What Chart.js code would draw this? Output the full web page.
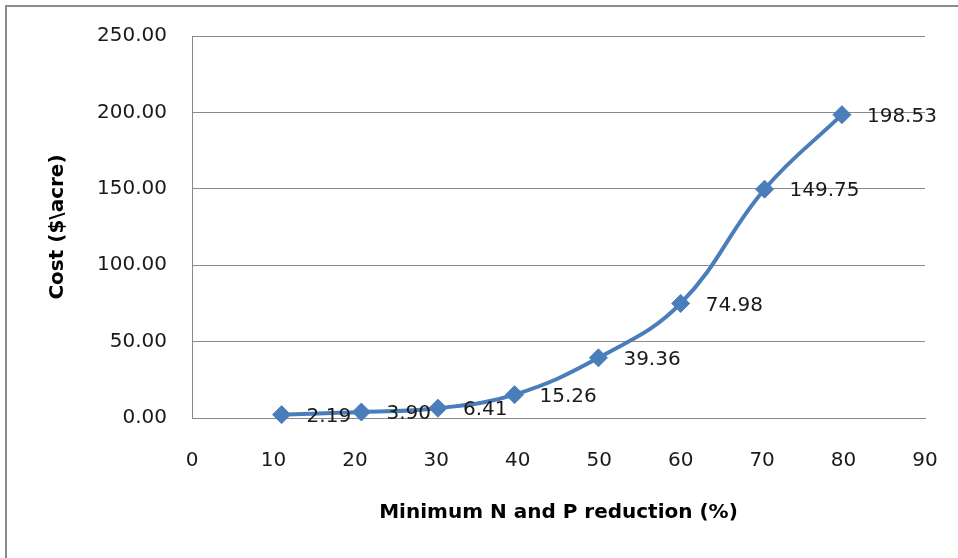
<!DOCTYPE html>
<html>
<head>
<meta charset="utf-8">
<script src="https://cdn.jsdelivr.net/npm/chart.js@4.4.0/dist/chart.umd.min.js"></script>
<style>
html,body{margin:0;padding:0;background:#fff;}
#wrap{width:958px;height:558px;position:relative;}
</style>
</head>
<body>
<div id="wrap"><canvas id="c" width="958" height="558"></canvas></div>
<script>
const reductionPct = [11, 20.8, 30.2, 39.6, 49.9, 60, 70.3, 79.8];
const costPerAcre = [2.19, 3.90, 6.41, 15.26, 39.36, 74.98, 149.75, 198.53];
const xTickValues = [0, 10, 20, 30, 40, 50, 60, 70, 80, 90];
const yTickValues = [0, 50, 100, 150, 200, 250];
const xTitle = 'Minimum N and P reduction (%)';
const yTitle = 'Cost ($\\acre)';

const points = reductionPct.map((x, i) => ({x: x, y: costPerAcre[i]}));

const frame = {
  id: 'frame',
  beforeDraw(chart) {
    const ctx = chart.ctx;
    ctx.save();
    ctx.fillStyle = '#fff';
    ctx.fillRect(0, 0, chart.width, chart.height);
    ctx.strokeStyle = '#8c8c8c';
    ctx.lineWidth = 2;
    ctx.beginPath();
    ctx.moveTo(6, chart.height);
    ctx.lineTo(6, 6);
    ctx.lineTo(chart.width, 6);
    ctx.stroke();
    ctx.restore();
  }
};

const valueLabels = {
  id: 'valueLabels',
  afterDatasetsDraw(chart) {
    const ctx = chart.ctx;
    const meta = chart.getDatasetMeta(0);
    ctx.save();
    ctx.font = '20px "DejaVu Sans"';
    ctx.fillStyle = '#1a1a1a';
    ctx.textAlign = 'left';
    ctx.textBaseline = 'middle';
    meta.data.forEach((el, i) => {
      ctx.fillText(costPerAcre[i].toFixed(2), el.x + 25, el.y + 2);
    });
    ctx.restore();
  }
};

new Chart(document.getElementById('c'), {
  type: 'line',
  data: {
    datasets: [{
      data: points,
      borderColor: '#4A7EBB',
      backgroundColor: '#4A7EBB',
      borderWidth: 4,
      tension: 0.4,
      pointStyle: 'rectRot',
      pointRadius: 9,
      pointBorderWidth: 1,
      pointBackgroundColor: '#4A7EBB',
      pointBorderColor: '#4A7EBB',
      clip: false
    }]
  },
  options: {
    responsive: false,
    animation: false,
    devicePixelRatio: 1,
    layout: {padding: {left: 10, top: 36, right: 33, bottom: 0}},
    plugins: {legend: {display: false}, tooltip: {enabled: false}},
    scales: {
      x: {
        type: 'linear',
        min: 0, max: 90,
        afterBuildTicks: (s) => { s.ticks = xTickValues.map(v => ({value: v})); },
        afterFit: (s) => { s.height = 140; s.paddingRight = 0; s.paddingLeft = 0; },
        grid: {display: false},
        border: {display: true, color: '#8a8a8a', width: 1},
        ticks: {font: {family: 'DejaVu Sans', size: 20}, color: '#1a1a1a', padding: 23, maxRotation: 0},
        title: {display: true, text: xTitle, font: {family: 'DejaVu Sans', size: 20, weight: 'bold'}, color: '#000', padding: {top: 0, bottom: 33}}
      },
      y: {
        type: 'linear',
        min: 0, max: 250,
        afterBuildTicks: (s) => { s.ticks = yTickValues.map(v => ({value: v})); },
        afterFit: (s) => { s.width = 182; s.paddingTop = 0; s.paddingBottom = 0; },
        grid: {display: true, color: '#8a8a8a', lineWidth: 1, drawTicks: false},
        border: {display: true, color: '#8a8a8a', width: 1},
        ticks: {font: {family: 'DejaVu Sans', size: 20}, color: '#1a1a1a', padding: 25, callback: (v) => Number(v).toFixed(2)},
        title: {display: true, text: yTitle, font: {family: 'DejaVu Sans', size: 20, weight: 'bold'}, color: '#000', padding: {top: 36, bottom: 0}}
      }
    }
  },
  plugins: [frame, valueLabels]
});
</script>
</body>
</html>
